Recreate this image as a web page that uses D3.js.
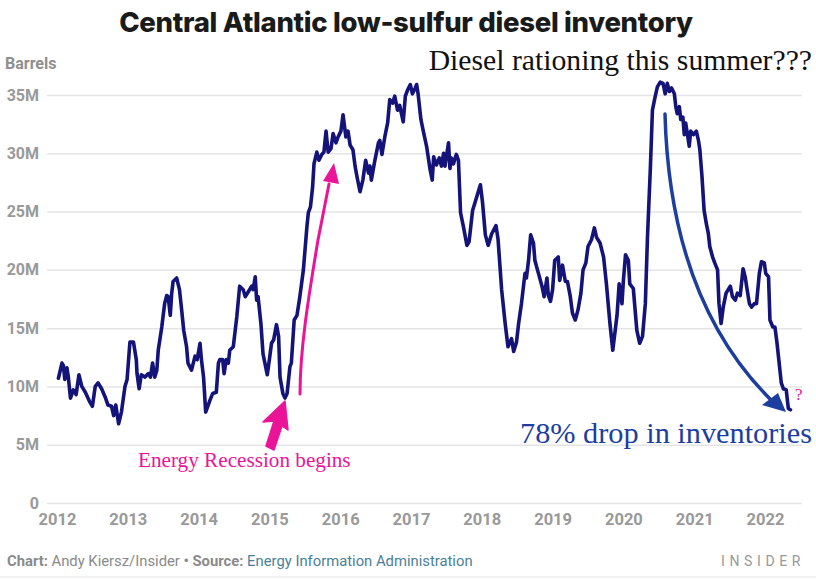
<!DOCTYPE html>
<html>
<head>
<meta charset="utf-8">
<script src="https://cdn.jsdelivr.net/npm/d3@7"></script>
<style>
  body { margin: 0; background: #fff; }
  svg { display: block; }
</style>
</head>
<body>
<svg id="chart" width="816" height="580"></svg>
<script>
// Central Atlantic low-sulfur diesel inventory, millions of barrels
const years = [
  2012.02, 2012.07, 2012.09, 2012.11, 2012.14, 2012.16, 2012.19, 2012.23, 2012.27, 2012.31,
  2012.35, 2012.40, 2012.46, 2012.50, 2012.54, 2012.58, 2012.63, 2012.68, 2012.72, 2012.77,
  2012.80, 2012.83, 2012.87, 2012.91, 2012.96, 2012.99, 2013.03, 2013.08, 2013.12, 2013.13,
  2013.16, 2013.19, 2013.24, 2013.29, 2013.32, 2013.35, 2013.38, 2013.41, 2013.43, 2013.48,
  2013.52, 2013.55, 2013.57, 2013.60, 2013.62, 2013.64, 2013.69, 2013.73, 2013.76, 2013.79,
  2013.83, 2013.85, 2013.90, 2013.95, 2013.98, 2014.02, 2014.04, 2014.07, 2014.10, 2014.16,
  2014.20, 2014.25, 2014.28, 2014.30, 2014.34, 2014.36, 2014.39, 2014.42, 2014.44, 2014.49,
  2014.54, 2014.58, 2014.63, 2014.66, 2014.70, 2014.75, 2014.77, 2014.80, 2014.82, 2014.84,
  2014.88, 2014.91, 2014.97, 2015.00, 2015.03, 2015.06, 2015.10, 2015.13, 2015.15, 2015.19,
  2015.22, 2015.25, 2015.29, 2015.31, 2015.35, 2015.39, 2015.43, 2015.48, 2015.53, 2015.55,
  2015.58, 2015.61, 2015.63, 2015.67, 2015.70, 2015.74, 2015.77, 2015.80, 2015.83, 2015.87,
  2015.90, 2015.94, 2015.97, 2016.01, 2016.04, 2016.08, 2016.11, 2016.14, 2016.18, 2016.21,
  2016.24, 2016.28, 2016.32, 2016.36, 2016.40, 2016.42, 2016.44, 2016.49, 2016.54, 2016.56,
  2016.59, 2016.63, 2016.67, 2016.70, 2016.74, 2016.77, 2016.81, 2016.84, 2016.89, 2016.92,
  2016.95, 2016.99, 2017.02, 2017.06, 2017.08, 2017.10, 2017.14, 2017.17, 2017.22, 2017.27,
  2017.30, 2017.32, 2017.36, 2017.40, 2017.43, 2017.46, 2017.48, 2017.50, 2017.53, 2017.55,
  2017.57, 2017.60, 2017.64, 2017.67, 2017.70, 2017.74, 2017.79, 2017.82, 2017.87, 2017.93,
  2017.98, 2018.01, 2018.05, 2018.09, 2018.14, 2018.20, 2018.23, 2018.28, 2018.33, 2018.37,
  2018.42, 2018.45, 2018.49, 2018.52, 2018.56, 2018.61, 2018.63, 2018.66, 2018.69, 2018.73,
  2018.75, 2018.80, 2018.85, 2018.88, 2018.92, 2018.94, 2018.97, 2019.00, 2019.03, 2019.08,
  2019.10, 2019.14, 2019.18, 2019.21, 2019.25, 2019.28, 2019.32, 2019.36, 2019.40, 2019.43,
  2019.47, 2019.50, 2019.55, 2019.59, 2019.62, 2019.67, 2019.72, 2019.76, 2019.81, 2019.85,
  2019.88, 2019.91, 2019.94, 2019.98, 2020.00, 2020.03, 2020.07, 2020.09, 2020.14, 2020.19,
  2020.23, 2020.27, 2020.31, 2020.34, 2020.38, 2020.41, 2020.45, 2020.48, 2020.52, 2020.56,
  2020.59, 2020.62, 2020.65, 2020.68, 2020.72, 2020.74, 2020.76, 2020.79, 2020.81, 2020.84,
  2020.86, 2020.88, 2020.91, 2020.93, 2020.95, 2020.99, 2021.03, 2021.06, 2021.08, 2021.11,
  2021.14, 2021.17, 2021.20, 2021.22, 2021.26, 2021.29, 2021.33, 2021.35, 2021.38, 2021.41,
  2021.45, 2021.48, 2021.51, 2021.54, 2021.58, 2021.61, 2021.65, 2021.69, 2021.72, 2021.74,
  2021.78, 2021.81, 2021.85, 2021.88, 2021.92, 2021.95, 2021.99, 2022.01, 2022.05, 2022.07,
  2022.11, 2022.14, 2022.17, 2022.20, 2022.23, 2022.26, 2022.30, 2022.32, 2022.33, 2022.36
];
const barrels = [
  10.7, 12.0, 11.8, 10.6, 11.6, 10.8, 9.0, 9.7, 9.3, 11.0,
  10.0, 9.5, 8.7, 8.3, 10.0, 10.3, 9.8, 9.1, 8.4, 8.3,
  7.5, 8.4, 6.8, 7.8, 10.0, 10.6, 13.8, 13.8, 12.3, 11.1,
  9.8, 11.0, 10.8, 11.1, 10.8, 12.0, 10.8, 11.4, 13.1, 15.1,
  17.1, 17.8, 17.7, 16.1, 18.0, 19.0, 19.3, 18.3, 16.6, 14.8,
  13.4, 12.0, 11.4, 12.6, 12.3, 13.7, 12.3, 10.8, 7.8, 8.8,
  9.4, 9.5, 12.0, 12.3, 12.3, 11.1, 12.3, 12.0, 13.1, 13.4,
  16.0, 18.6, 18.3, 17.7, 18.1, 18.6, 18.3, 19.4, 17.4, 17.7,
  15.4, 12.8, 11.0, 12.3, 13.7, 14.0, 15.3, 14.3, 10.8, 9.4,
  9.0, 9.4, 11.7, 12.0, 15.7, 16.1, 17.7, 20.0, 23.7, 24.9,
  25.4, 27.1, 29.1, 30.1, 29.4, 29.9, 30.1, 31.9, 30.1, 30.4,
  31.7, 30.9, 31.4, 31.9, 33.3, 31.4, 31.9, 30.7, 30.3, 28.9,
  27.9, 26.7, 27.7, 29.4, 28.3, 28.9, 27.7, 29.4, 30.9, 31.1,
  29.9, 31.4, 32.6, 34.6, 34.3, 34.9, 33.7, 34.1, 32.7, 34.9,
  35.4, 35.9, 35.1, 35.6, 35.9, 35.1, 32.9, 32.0, 30.6, 28.6,
  27.7, 29.7, 29.0, 29.6, 28.9, 30.0, 28.9, 29.7, 30.9, 28.7,
  29.6, 29.1, 29.9, 29.4, 24.9, 23.7, 22.1, 22.4, 25.1, 26.3,
  27.3, 25.8, 23.0, 22.1, 23.1, 23.8, 22.6, 18.3, 15.4, 13.4,
  14.1, 13.0, 13.8, 15.4, 17.1, 19.7, 19.3, 20.8, 23.0, 22.3,
  20.8, 19.7, 18.6, 17.7, 19.3, 17.8, 17.3, 18.3, 20.8, 21.1,
  19.1, 20.4, 19.0, 19.0, 17.7, 16.3, 15.7, 16.6, 18.0, 20.0,
  20.6, 22.0, 22.6, 23.6, 22.8, 22.3, 21.1, 18.8, 15.4, 13.1,
  14.6, 16.1, 18.8, 17.1, 19.1, 21.3, 20.8, 18.8, 18.4, 14.8,
  13.7, 14.3, 17.1, 22.8, 28.6, 33.7, 34.9, 35.7, 36.1, 36.0,
  35.1, 36.0, 35.3, 35.6, 35.1, 34.0, 33.4, 34.0, 32.9, 33.1,
  31.6, 32.6, 31.4, 30.6, 31.9, 31.6, 31.9, 31.1, 30.3, 28.0,
  25.1, 24.0, 23.1, 22.0, 21.1, 20.6, 20.0, 17.1, 15.4, 16.8,
  18.0, 18.3, 18.6, 17.7, 17.4, 18.0, 17.8, 20.1, 19.4, 18.6,
  17.1, 16.8, 17.1, 17.1, 19.7, 20.7, 20.6, 19.7, 19.4, 15.7,
  15.1, 15.1, 13.7, 12.0, 10.3, 9.8, 9.7, 8.6, 8.1, 8.0
];
const yTicks = [0, 5, 10, 15, 20, 25, 30, 35];
const xTicks = [2012, 2013, 2014, 2015, 2016, 2017, 2018, 2019, 2020, 2021, 2022];

const svg = d3.select("#chart");
const sans = "Roboto, 'Noto Sans', sans-serif";
const serif = "'Liberation Serif', 'DejaVu Serif', serif";

const x = d3.scaleLinear().domain([2012, 2022]).range([57, 765]);
const y = d3.scaleLinear().domain([0, 35]).range([503, 95]);

// title
svg.append("text")
    .attr("x", 406).attr("y", 32)
    .attr("text-anchor", "middle")
    .style("font-family", "Inter, Roboto, sans-serif")
    .style("font-weight", 800)
    .style("font-size", "27.5px")
    .style("letter-spacing", "-0.3px")
    .attr("fill", "#1a1a1a")
    .text("Central Atlantic low-sulfur diesel inventory");

svg.append("text")
    .attr("x", 5).attr("y", 69)
    .style("font-family", sans)
    .style("font-weight", 700)
    .style("font-size", "16px")
    .attr("fill", "#8f8f8f")
    .text("Barrels");

// y axis + gridlines
const yAxis = svg.append("g")
    .attr("transform", "translate(47,0)")
    .call(d3.axisLeft(y)
        .tickValues(yTicks)
        .tickSize(-(802 - 47))
        .tickPadding(8)
        .tickFormat(d => d === 0 ? "0" : d + "M"));
yAxis.select(".domain").remove();
yAxis.selectAll(".tick line").attr("stroke", "#e4e4e4").attr("stroke-width", 1.5);
yAxis.selectAll(".tick text")
    .style("font-family", sans)
    .style("font-weight", 700)
    .style("font-size", "16px")
    .attr("fill", "#999");

// x axis
const xAxis = svg.append("g")
    .attr("transform", "translate(0,503)")
    .call(d3.axisBottom(x)
        .tickValues(xTicks)
        .tickSize(0)
        .tickPadding(10)
        .tickFormat(d3.format("d")));
xAxis.select(".domain").remove();
xAxis.selectAll(".tick text")
    .style("font-family", sans)
    .style("font-weight", 700)
    .style("font-size", "16.5px")
    .attr("fill", "#999");

// the series
const line = d3.line()
    .x((d, i) => x(years[i]))
    .y(d => y(d));

svg.append("path")
    .datum(barrels)
    .attr("d", line)
    .attr("fill", "none")
    .attr("stroke", "#13137a")
    .attr("stroke-width", 3.6)
    .attr("stroke-linejoin", "round")
    .attr("stroke-linecap", "round");

// annotations drawn on top
const pink = "#ea1499";
const blue = "#1d3e9e";

// thin curved arrow up the 2015 rise
svg.append("path")
    .attr("d", "M300,394 C300,350 308,300 318,240 L329,184")
    .attr("fill", "none")
    .attr("stroke", pink)
    .attr("stroke-width", 3)
    .attr("stroke-linecap", "round");
svg.append("path")
    .attr("d", "M334,163 L339,184 L323,181 Z")
    .attr("fill", pink);

// chunky arrow pointing at the 2015 low
svg.append("path")
    .attr("d", "M285,401 L288,430 L282,426 L274,450 L266,446 L274,421 L263,422 Z")
    .attr("fill", pink)
    .attr("stroke", pink)
    .attr("stroke-width", 1.5)
    .attr("stroke-linejoin", "round");

// blue curved arrow down from the 2020 peak
svg.append("path")
    .attr("d", "M665,114 C668,230 700,330 772,401")
    .attr("fill", "none")
    .attr("stroke", blue)
    .attr("stroke-width", 3.5)
    .attr("stroke-linecap", "round");
svg.append("path")
    .attr("d", "M786,412 L762,405 L778,393 Z")
    .attr("fill", blue);

svg.append("text")
    .attr("x", 812).attr("y", 70)
    .attr("text-anchor", "end")
    .style("font-family", serif)
    .style("font-size", "29.7px")
    .attr("fill", "#111")
    .text("Diesel rationing this summer???");

svg.append("text")
    .attr("x", 812).attr("y", 443)
    .attr("text-anchor", "end")
    .style("font-family", serif)
    .style("font-size", "30.3px")
    .attr("fill", blue)
    .text("78% drop in inventories");

svg.append("text")
    .attr("x", 795).attr("y", 400)
    .style("font-family", serif)
    .style("font-size", "17px")
    .attr("fill", pink)
    .text("?");

svg.append("text")
    .attr("x", 138).attr("y", 467)
    .style("font-family", serif)
    .style("font-size", "21.2px")
    .attr("fill", pink)
    .text("Energy Recession begins");

// footer
const foot = svg.append("text")
    .attr("x", 7).attr("y", 566)
    .style("font-family", sans)
    .style("font-size", "14.8px")
    .attr("fill", "#8a8a8a");
foot.append("tspan").style("font-weight", 700).text("Chart: ");
foot.append("tspan").text("Andy Kiersz/Insider ");
foot.append("tspan").style("font-weight", 700).text("\u2022 Source: ");
foot.append("tspan").attr("fill", "#4b7f98").text("Energy Information Administration");

svg.append("text")
    .attr("x", 805).attr("y", 566)
    .attr("text-anchor", "end")
    .style("font-family", sans)
    .style("font-size", "14px")
    .style("letter-spacing", "4.6px")
    .attr("fill", "#999")
    .text("INSIDER");

svg.append("line")
    .attr("x1", 0).attr("x2", 816)
    .attr("y1", 577).attr("y2", 577)
    .attr("stroke", "#ececec")
    .attr("stroke-width", 1.5);
</script>
</body>
</html>
